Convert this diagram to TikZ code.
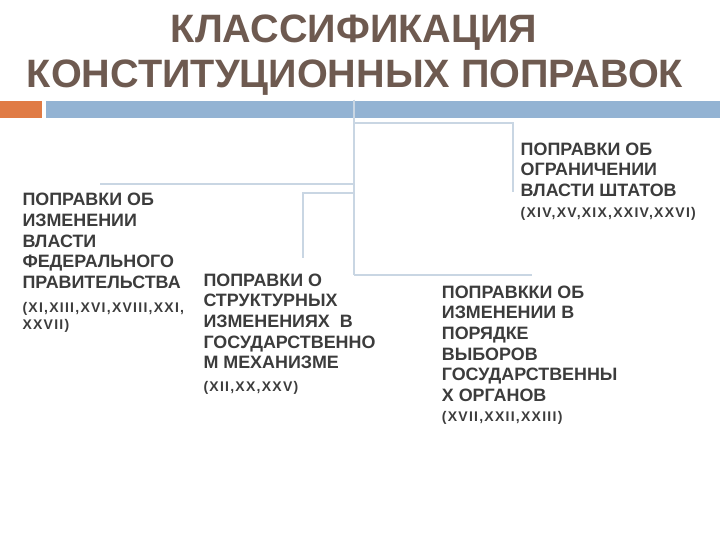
\documentclass[tikz,border=0pt]{standalone}
\usepackage{fontspec}
\setmainfont{Liberation Sans}
\newfontfamily\romfont[LetterSpace=9]{Liberation Sans}
\definecolor{titlec}{HTML}{6E5A50}
\definecolor{txt}{HTML}{3C3C3C}
\definecolor{orangec}{HTML}{E07B45}
\definecolor{barblue}{HTML}{93B3D3}
\definecolor{linec}{HTML}{98AFC6}
\definecolor{linein}{HTML}{C9D6E3}
\begin{document}
\begin{tikzpicture}[x=1pt,y=-1pt,
  conn/.style={draw=linec, line width=0.9pt, double=linein, double distance=1.1pt},
  body/.style={anchor=north west, inner sep=0pt, align=left, text=txt, font=\bfseries\fontsize{17.9}{20.6}\selectfont},
  roman/.style={anchor=north west, inner sep=0pt, align=left, text=txt, font=\romfont\bfseries\fontsize{14}{17}\selectfont},
  ttl/.style={anchor=base, inner sep=0pt, text=titlec, font=\bfseries\fontsize{39.6}{45}\selectfont}]
\useasboundingbox (0,0) rectangle (720,540);
\fill[white] (0,0) rectangle (720,540);
% title
\node[ttl] (t1) at (354,43) {КЛАССИФИКАЦИЯ};
\node[ttl] (t2) at (355,87.5) {КОНСТИТУЦИОННЫХ ПОПРАВОК};
% bars
\fill[orangec] (0,101) rectangle (42,118);
\fill[barblue] (46,101) rectangle (720,118);
% coordinates
\coordinate (root) at (354,100);
\coordinate (trunkend) at (354,275);
\coordinate (jtr) at (354,123);
\coordinate (etr) at (513,192);
\coordinate (jl) at (354,184);
\coordinate (el) at (100,184);
\coordinate (jm) at (354,193);
\coordinate (em) at (303,258);
\coordinate (ebr) at (532,275);
% connectors
\draw[conn] (root) -- (trunkend);
\draw[conn] (jtr) -| (etr);
\draw[conn] (jl) -- (el);
\draw[conn] (jm) -| (em);
\draw[conn] (trunkend) -- (ebr);
% texts
\node[body] (lb) at (22.3,193.3) {ПОПРАВКИ ОБ\\ИЗМЕНЕНИИ\\ВЛАСТИ\\ФЕДЕРАЛЬНОГО\\ПРАВИТЕЛЬСТВА};
\node[roman] (lr) at (22.3,302) {(XI,XIII,XVI,XVIII,XXI,\\XXVII)};
\node[body] (mb) at (203.3,273.5) {ПОПРАВКИ О\\СТРУКТУРНЫХ\\ИЗМЕНЕНИЯХ\ \ В\\ГОСУДАРСТВЕННО\\М МЕХАНИЗМЕ};
\node[roman] (mr) at (203.3,381) {(XII,XX,XXV)};
\node[body] (bb) at (441.7,285.5) {ПОПРАВККИ ОБ\\ИЗМЕНЕНИИ В\\ПОРЯДКЕ\\ВЫБОРОВ\\ГОСУДАРСТВЕННЫ\\Х ОРГАНОВ};
\node[roman] (br) at (441.7,411) {(XVII,XXII,XXIII)};
\node[body] (tb) at (520.5,142.7) {ПОПРАВКИ ОБ\\ОГРАНИЧЕНИИ\\ВЛАСТИ ШТАТОВ};
\node[roman] (tr) at (520.5,207) {(XIV,XV,XIX,XXIV,XXVI)};
\end{tikzpicture}
\end{document}
